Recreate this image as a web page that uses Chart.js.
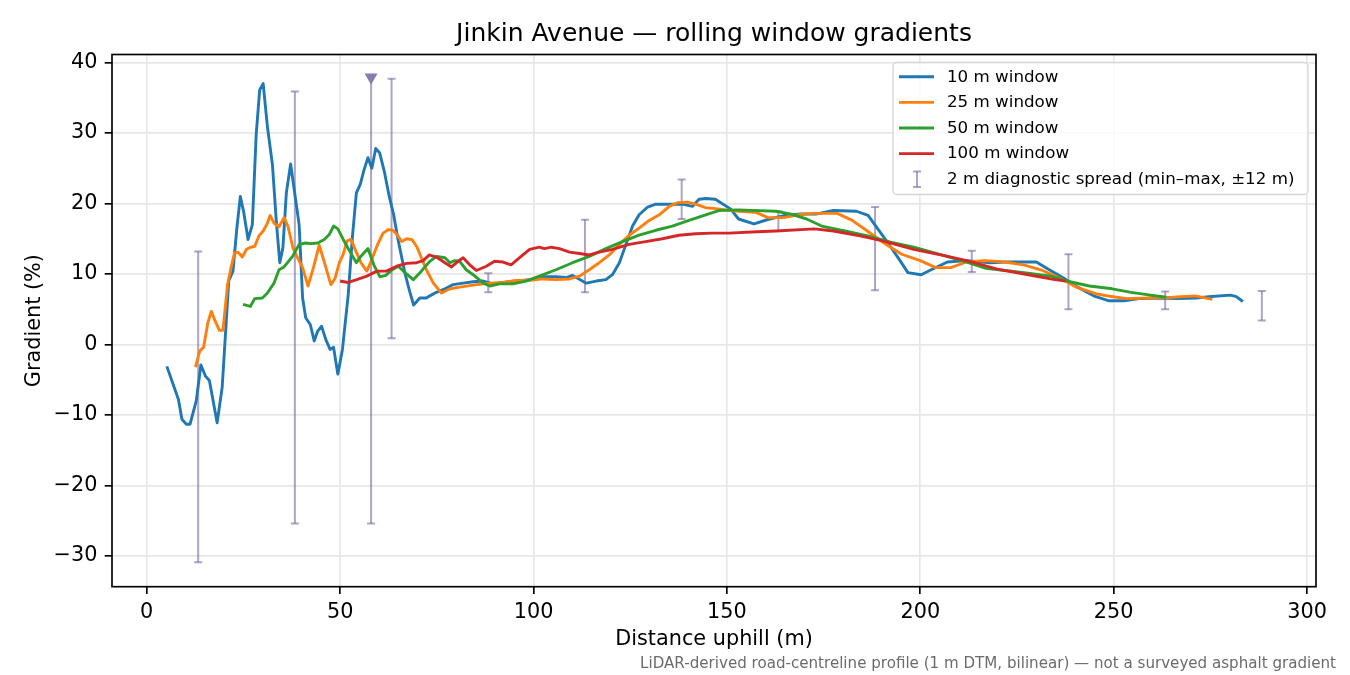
<!DOCTYPE html>
<html><head><meta charset="utf-8">
<script src="https://cdn.jsdelivr.net/npm/chart.js@4.4.1/dist/chart.umd.min.js"></script>
<style>html,body{margin:0;padding:0;background:#fff;}canvas{display:block;}</style>
</head><body>
<canvas id="c" width="1350" height="675"></canvas>
<script>
// ---- data ----
const w10X = [5.2,8.2,9.1,10.2,11.2,12.8,14.0,15.2,16.2,18.2,19.5,21.2,22.3,23.3,24.2,25.1,26.2,27.3,28.3,29.2,30.1,31.2,32.5,33.5,34.4,35.2,36.1,37.2,38.3,39.4,40.3,41.1,42.3,43.3,44.2,45.2,46.3,47.4,48.3,49.4,50.6,52.1,53.2,54.2,55.2,56.2,57.2,58.2,59.2,60.2,61.4,62.7,63.8,65.0,66.8,68.0,69.0,70.6,72.3,73.2,74.9,77.1,79.2,81.8,84.4,87.0,89.5,92.1,95.5,99.0,102.4,105.8,108.4,110.1,111.4,113.6,116.2,118.7,120.4,122.2,123.9,125.6,127.3,129.5,131.6,135.9,138.5,141.1,142.8,144.5,147.0,151.0,153.0,157.0,161.0,165.0,169.0,173.0,177.5,183.5,186.5,188.5,191.5,194.5,196.8,200.2,203.2,207.0,212.0,218.0,222.0,226.0,230.0,233.0,236.8,240.8,244.8,248.8,252.7,256.6,261.5,266.5,271.3,275.3,280.2,281.7,283.4];
const w10Y = [-3.1,-7.8,-10.6,-11.3,-11.3,-8.0,-2.9,-4.5,-5.1,-11.1,-6.1,9.0,10.4,16.5,21.0,18.7,14.9,17.0,29.8,36.1,37.0,30.9,25.5,17.5,11.6,13.7,21.5,25.6,21.3,17.0,6.6,3.8,2.8,0.5,1.9,2.6,0.7,-0.7,-0.4,-4.2,-0.7,7.1,15.4,21.5,22.7,24.8,26.5,25.0,27.8,27.2,24.6,21.0,18.5,14.8,10.0,7.5,5.6,6.6,6.6,6.9,7.4,7.9,8.5,8.7,8.9,9.0,8.6,8.8,9.0,9.2,9.6,9.6,9.5,9.8,9.4,8.7,9.0,9.2,9.9,11.6,14.2,16.8,18.4,19.5,19.9,19.9,19.9,19.6,20.6,20.7,20.6,19.2,17.8,17.1,17.8,18.3,18.5,18.5,19.0,18.9,18.3,16.8,14.5,12.1,10.2,9.9,10.7,11.7,11.9,11.6,11.7,11.7,11.7,10.7,9.5,8.1,6.9,6.2,6.2,6.5,6.6,6.5,6.6,6.8,7.0,6.8,6.1];

const w25X = [12.6,13.7,14.7,15.8,16.7,17.7,18.8,19.7,20.9,21.8,22.7,23.6,24.7,25.8,26.8,27.9,29.0,30.1,31.2,31.9,32.9,34.2,35.5,36.5,37.8,39.0,40.3,41.7,43.1,44.6,45.9,47.6,48.7,49.8,50.8,51.8,52.8,54.1,55.4,56.9,58.0,59.7,61.1,62.5,63.6,64.7,65.9,67.2,68.5,69.8,71.0,72.3,74.1,76.2,78.4,81.8,85.2,88.7,92.1,95.5,99.0,102.4,105.8,109.3,111.9,114.4,117.0,119.6,122.2,124.7,127.3,129.9,132.5,135.1,137.2,139.8,141.9,144.5,146.5,150.8,157.7,160.6,164.6,168.6,172.5,178.5,182.4,186.3,190.3,195.2,200.0,204.0,207.9,211.9,216.8,221.7,226.7,231.6,236.5,240.5,245.4,249.4,253.4,259.3,265.2,271.1,275.5];
const w25Y = [-3.2,-0.9,-0.4,3.1,4.7,3.3,2.0,2.0,8.5,10.9,13.0,13.1,12.4,13.5,13.8,13.9,15.4,16.1,17.2,18.3,17.2,16.7,18.0,16.8,13.7,12.3,10.9,8.3,10.9,14.1,11.7,8.5,9.4,11.6,12.8,14.7,14.9,13.2,11.6,10.4,11.8,14.2,15.8,16.3,16.2,15.6,14.6,15.0,14.9,13.9,12.3,10.6,8.7,7.3,7.9,8.2,8.5,8.7,8.8,9.1,9.1,9.3,9.2,9.3,9.7,10.6,11.6,12.7,14.2,15.5,16.5,17.6,18.4,19.6,20.1,20.2,19.9,19.4,19.3,19.0,18.7,18.0,18.0,18.4,18.6,18.6,17.6,16.1,14.5,12.8,11.9,10.9,10.9,11.7,11.9,11.7,11.3,10.5,9.3,8.1,7.2,6.8,6.5,6.6,6.7,6.9,6.4];

const w50X = [24.9,26.8,27.9,29.9,31.2,32.9,34.2,35.5,37.7,39.4,41.1,42.4,44.2,45.9,47.2,48.3,49.4,50.8,52.1,54.2,55.5,57.2,58.7,60.3,61.8,63.5,65.0,66.8,68.9,71.0,73.2,74.9,77.1,78.4,79.6,80.9,82.6,84.4,87.0,88.7,91.2,94.7,98.1,101.5,105.8,110.1,114.4,118.7,123.0,127.3,131.6,135.9,140.2,144.5,147.9,152.8,162.7,166.6,170.6,174.5,180.5,186.4,192.3,198.3,206.2,212.0,217.0,221.9,227.9,233.8,238.7,243.7,249.6,254.5,259.5,263.6];
const w50Y = [5.7,5.4,6.5,6.6,7.3,8.7,10.6,11.0,12.5,14.2,14.4,14.3,14.4,14.9,15.6,16.8,16.4,14.9,13.6,11.6,12.6,13.6,11.3,9.6,9.8,10.6,11.1,10.2,9.2,10.4,11.8,12.5,12.3,11.6,11.9,11.8,10.6,9.9,8.7,8.3,8.6,8.6,9.0,9.7,10.6,11.6,12.5,13.6,14.6,15.5,16.2,16.8,17.6,18.4,19.0,19.1,18.9,18.5,17.8,16.8,16.1,15.4,14.5,13.8,12.6,11.7,10.8,10.5,10.1,9.7,8.9,8.3,7.9,7.4,7.0,6.7];

const w100X = [50.0,52.1,54.3,56.9,59.5,62.0,64.6,67.2,69.8,71.5,73.0,74.9,77.1,78.8,80.5,81.8,83.5,85.2,87.8,89.9,92.1,94.2,96.8,99.0,101.5,102.8,104.6,106.7,109.3,111.9,114.4,117.0,120.4,124.7,129.0,133.3,137.6,141.9,146.2,150.5,157.8,162.7,172.6,177.5,184.4,190.3,198.3,206.2,212.0,219.9,227.9,234.8,237.6];
const w100Y = [9.0,8.8,9.2,9.7,10.4,10.4,11.1,11.5,11.6,11.9,12.7,12.4,11.6,11.0,11.8,12.3,11.3,10.5,11.1,11.8,11.7,11.3,12.5,13.5,13.8,13.6,13.8,13.6,13.1,12.9,12.7,13.1,13.5,14.2,14.6,15.0,15.5,15.7,15.8,15.8,16.0,16.1,16.4,16.1,15.4,14.7,13.5,12.6,11.9,10.7,9.9,9.2,9.0];

const errX  = [13.3,38.3,58.0,63.3,88.3,113.3,138.3,163.3,188.3,213.3,238.3,263.3,288.3];
const errLo = [-30.9,-25.4,-25.4,0.9,7.4,7.4,17.8,16.1,7.7,10.3,5.0,5.0,3.4];
const errHi = [13.2,35.9,37.9,37.7,10.1,17.7,23.4,18.9,19.5,13.3,12.8,7.5,7.6];
const errOffScale = [false,false,true,false,false,false,false,false,false,false,false,false,false];

const offX = [58.0];
const offY = [37.9];

const xTicks = [0,50,100,150,200,250,300];
const yTicks = [-30,-20,-10,0,10,20,30,40];
const xLimits = [-8.98,302.3];
const yLimits = [-34.35,41.13];

const seriesLabels = ['10 m window','25 m window','50 m window','100 m window'];
const errLabel = '2 m diagnostic spread (min\u2013max, \u00b112 m)';
const titleText = 'Jinkin Avenue \u2014 rolling window gradients';
const xTitle = 'Distance uphill (m)';
const yTitle = 'Gradient (%)';
const footnote = 'LiDAR-derived road-centreline profile (1 m DTM, bilinear) \u2014 not a surveyed asphalt gradient';

// ---- styles ----
const FONT = 'DejaVu Sans';
const colors = ['#1f77b4','#ff7f0e','#2ca02c','#d62728'];
const errColor = 'rgba(120,102,165,0.6)';
const markColor = '#8a7bab';
const LW = 2.9;

const pts = (xs, ys) => xs.map((x, i) => ({x: x, y: ys[i]}));

const errorBarPlugin = {
  id: 'errBars',
  beforeDatasetsDraw(chart) {
    const {ctx, chartArea: ca, scales} = chart;
    const xs = scales.x, ys = scales.y;
    const cap = 4;
    ctx.save();
    ctx.beginPath();
    ctx.rect(ca.left, ca.top, ca.right - ca.left, ca.bottom - ca.top);
    ctx.clip();
    ctx.strokeStyle = errColor;
    ctx.lineWidth = 2;
    errX.forEach((v, i) => {
      const px = xs.getPixelForValue(v);
      const p1 = ys.getPixelForValue(errLo[i]);
      const p2 = ys.getPixelForValue(errHi[i]);
      ctx.beginPath();
      ctx.moveTo(px, p1); ctx.lineTo(px, p2);
      ctx.stroke();
      ctx.beginPath();
      ctx.moveTo(px - cap, p1); ctx.lineTo(px + cap, p1);
      if (!errOffScale[i]) { ctx.moveTo(px - cap, p2); ctx.lineTo(px + cap, p2); }
      ctx.stroke();
    });
    ctx.restore();
  }
};

const framePlugin = {
  id: 'frame',
  afterDatasetsDraw(chart) {
    const {ctx, chartArea: ca} = chart;
    ctx.save();
    ctx.strokeStyle = '#000';
    ctx.lineWidth = 1.67;
    ctx.strokeRect(ca.left, ca.top, ca.right - ca.left, ca.bottom - ca.top);
    ctx.restore();
  }
};

const legendPlugin = {
  id: 'mplLegend',
  afterDraw(chart) {
    const {ctx, chartArea: ca} = chart;
    const bw = 415, bh = 132;
    const bx = ca.right - 8 - bw, by = ca.top + 8;
    ctx.save();
    ctx.fillStyle = 'rgba(255,255,255,0.8)';
    ctx.strokeStyle = '#d4d4d4';
    ctx.lineWidth = 1.3;
    ctx.beginPath();
    ctx.roundRect(bx, by, bw, bh, 4);
    ctx.fill();
    ctx.stroke();
    ctx.font = '16.7px "' + FONT + '"';
    ctx.textBaseline = 'middle';
    ctx.textAlign = 'left';
    const rowH = 25.6;
    let row = 0;
    chart.data.datasets.forEach(ds => {
      if (!ds.inLegend) return;
      const cy = by + 14.3 + row * rowH;
      ctx.strokeStyle = ds.borderColor;
      ctx.lineWidth = LW;
      ctx.beginPath();
      ctx.moveTo(bx + 6, cy); ctx.lineTo(bx + 41, cy);
      ctx.stroke();
      ctx.fillStyle = '#000';
      ctx.fillText(ds.label, bx + 54, cy + 0.5);
      row++;
    });
    const cy = by + 14.3 + row * rowH;
    const ex = bx + 24;
    ctx.strokeStyle = errColor;
    ctx.lineWidth = 2;
    ctx.beginPath();
    ctx.moveTo(ex, cy - 7.8); ctx.lineTo(ex, cy + 7.8);
    ctx.stroke();
    ctx.beginPath();
    ctx.moveTo(ex - 4, cy - 7.8); ctx.lineTo(ex + 4, cy - 7.8);
    ctx.moveTo(ex - 4, cy + 7.8); ctx.lineTo(ex + 4, cy + 7.8);
    ctx.stroke();
    ctx.fillStyle = '#000';
    ctx.fillText(errLabel, bx + 54, cy + 0.5);
    ctx.restore();
  }
};

const footnotePlugin = {
  id: 'footnote',
  afterDraw(chart) {
    const ctx = chart.ctx;
    ctx.save();
    ctx.font = '15.1px "' + FONT + '"';
    ctx.fillStyle = '#6b6b6b';
    ctx.textAlign = 'right';
    ctx.textBaseline = 'alphabetic';
    ctx.fillText(footnote, 1336, 667.7);
    ctx.restore();
  }
};

const fmt = v => String(v).replace('-', '\u2212');

Chart.defaults.font.family = FONT;
Chart.defaults.color = '#000';

new Chart(document.getElementById('c'), {
  type: 'line',
  data: {
    datasets: [
      {label: seriesLabels[0], data: pts(w10X, w10Y), borderColor: colors[0], order: 5, inLegend: true},
      {label: seriesLabels[1], data: pts(w25X, w25Y), borderColor: colors[1], order: 4, inLegend: true},
      {label: seriesLabels[2], data: pts(w50X, w50Y), borderColor: colors[2], order: 3, inLegend: true},
      {label: seriesLabels[3], data: pts(w100X, w100Y), borderColor: colors[3], order: 2, inLegend: true},
      {label: 'off-scale', type: 'scatter', data: pts(offX, offY), order: 1, inLegend: false,
       pointStyle: 'triangle', rotation: 180, pointRadius: 7.5, pointHoverRadius: 7.5,
       backgroundColor: markColor, borderColor: markColor, borderWidth: 0, showLine: false}
    ].map(d => Object.assign({borderWidth: LW, pointRadius: 0, tension: 0, fill: false, borderJoinStyle: 'round', borderCapStyle: 'butt'}, d))
  },
  options: {
    responsive: false,
    animation: false,
    devicePixelRatio: 1,
    layout: {padding: {left: 0, right: 34, top: 0, bottom: 0}},
    plugins: {
      legend: {display: false},
      tooltip: {enabled: false},
      title: {
        display: true, text: titleText, fullSize: false,
        color: '#000',
        font: {size: 25, weight: 'normal', family: FONT, lineHeight: 1.2},
        padding: {top: 19, bottom: 5.5}
      }
    },
    scales: {
      x: {
        type: 'linear', min: xLimits[0], max: xLimits[1],
        afterBuildTicks: s => { s.ticks = xTicks.map(v => ({value: v})); },
        afterFit: s => { s.height = 88.3; },
        grid: {color: '#e7e7e7', lineWidth: 1.67, tickLength: 7.3, tickColor: '#000', tickWidth: 1.67, drawTicks: true},
        border: {display: false},
        ticks: {autoSkip: false, maxRotation: 0, padding: 6, color: '#000', font: {size: 20.8}, callback: v => fmt(v)},
        title: {display: true, text: xTitle, color: '#000', font: {size: 20.8, lineHeight: 1.2}, padding: {top: 0, bottom: 22.5}}
      },
      y: {
        type: 'linear', min: yLimits[0], max: yLimits[1],
        afterBuildTicks: s => { s.ticks = yTicks.map(v => ({value: v})); },
        afterFit: s => { s.width = 112; },
        grid: {color: '#e7e7e7', lineWidth: 1.67, tickLength: 7.3, tickColor: '#000', tickWidth: 1.67, drawTicks: true},
        border: {display: false},
        ticks: {autoSkip: false, padding: 7.3, color: '#000', font: {size: 20.8}, callback: v => fmt(v)},
        title: {display: true, text: yTitle, color: '#000', font: {size: 20.8, lineHeight: 1.2}, padding: {top: 22, bottom: 0}}
      }
    }
  },
  plugins: [errorBarPlugin, framePlugin, legendPlugin, footnotePlugin]
});
</script>
</body></html>
